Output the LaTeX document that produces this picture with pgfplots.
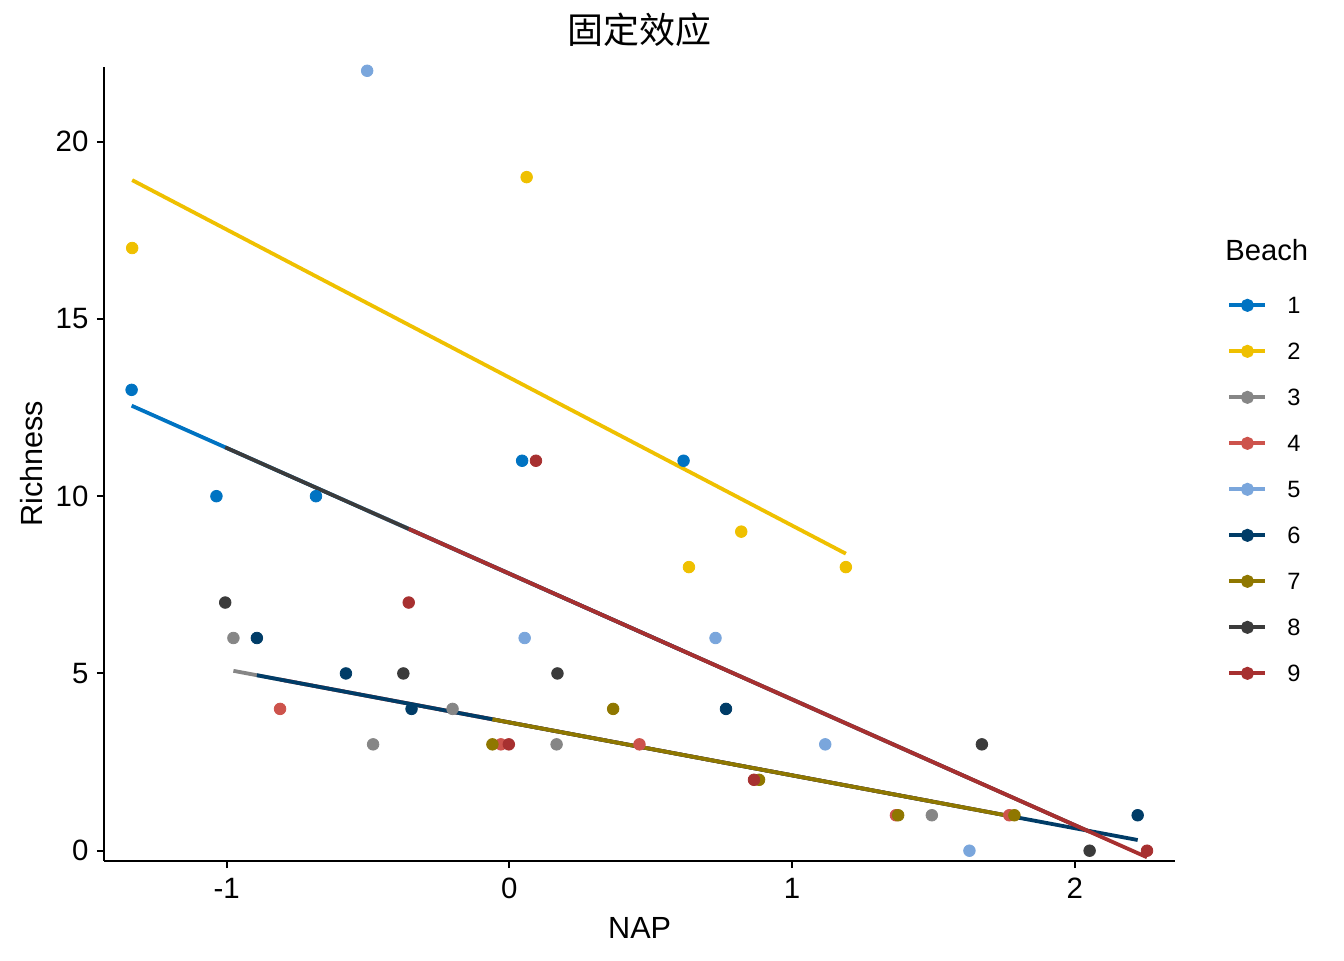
\documentclass[border=0pt]{standalone}
\usepackage{fontspec}
\setmainfont{Liberation Sans}
\newfontfamily\cjk{Noto Sans CJK SC}
\usepackage{pgfplots}
\pgfplotsset{compat=1.18}
\definecolor{b1}{HTML}{0073C2}
\definecolor{b2}{HTML}{EFC000}
\definecolor{b3}{HTML}{868686}
\definecolor{b4}{HTML}{CD534C}
\definecolor{b5}{HTML}{7AA6DC}
\definecolor{b6}{HTML}{003C67}
\definecolor{b7}{HTML}{8F7700}
\definecolor{b8}{HTML}{3B3B3B}
\definecolor{b9}{HTML}{A73030}
\begin{document}
\begin{tikzpicture}
\useasboundingbox (0,0) rectangle (672pt,480pt);
\begin{axis}[
  at={(52.15pt,49.65pt)}, anchor=south west,
  scale only axis, width=535.35pt, height=397pt,
  xmin=-1.4326, xmax=2.354, ymin=-0.282, ymax=22.115,
  axis x line*=bottom, axis y line*=left,
  axis line style={-, line width=1pt, black},
  xtick={-1,0,1,2}, xticklabels={-1,0,1,2},
  ytick={0,5,10,15,20}, yticklabels={0,5,10,15,20},
  tick align=outside, major tick length=3.75pt,
  tick style={line width=1pt, black},
  tick label style={font=\fontsize{14.7}{16}\selectfont, inner sep=4pt},
  xticklabel style={yshift=-0.9pt},
  every axis x label/.style={at={(axis description cs:0.5,-0.0848)}, anchor=center, font=\fontsize{15.3}{17}\selectfont},
  every axis y label/.style={at={(axis description cs:-0.0675,0.5)}, anchor=center, rotate=90, font=\fontsize{15.3}{17}\selectfont},
  xlabel={NAP}, ylabel={Richness},
  title={\cjk 固定效应},
  title style={at={(axis description cs:0.5003,1.0311)}, anchor=center, font=\fontsize{18}{20}\selectfont},
  clip=false,
  legend image code/.code={\draw[line width=2pt] (0pt,0pt) -- (18pt,0pt); \fill (9pt,0pt) circle (2.3pt);},
  legend style={at={(axis description cs:1.0486,0.7106)}, anchor=north west, draw=none, fill=none, inner sep=0pt,
    row sep=14.55pt, column sep=10pt,
    nodes={inner sep=0pt, text height=8.45pt, text depth=0pt},
    font=\fontsize{11.8}{13}\selectfont},
  legend cell align=left,
]
% points
\addplot[only marks, mark=*, mark size=2.9pt, color=b1, forget plot] coordinates {(0.045,11) (-1.036,10) (-1.336,13) (0.616,11) (-0.684,10)};
\addplot[only marks, mark=*, mark size=2.9pt, color=b2, forget plot] coordinates {(1.190,8) (0.820,9) (0.635,8) (0.061,19) (-1.334,17)};
\addplot[only marks, mark=*, mark size=2.9pt, color=b3, forget plot] coordinates {(-0.976,6) (1.494,1) (-0.201,4) (-0.482,3) (0.167,3)};
\addplot[only marks, mark=*, mark size=2.9pt, color=b4, forget plot] coordinates {(1.768,1) (-0.030,3) (0.460,3) (1.367,1) (-0.811,4)};
\addplot[only marks, mark=*, mark size=2.9pt, color=b5, forget plot] coordinates {(1.117,3) (-0.503,22) (0.729,6) (1.627,0) (0.054,6)};
\addplot[only marks, mark=*, mark size=2.9pt, color=b6, forget plot] coordinates {(-0.578,5) (-0.346,4) (2.222,1) (-0.893,6) (0.766,4)};
\addplot[only marks, mark=*, mark size=2.9pt, color=b7, forget plot] coordinates {(0.883,2) (1.786,1) (1.375,1) (-0.060,3) (0.367,4)};
\addplot[only marks, mark=*, mark size=2.9pt, color=b8, forget plot] coordinates {(1.671,3) (-0.375,5) (-1.005,7) (0.170,5) (2.052,0)};
\addplot[only marks, mark=*, mark size=2.9pt, color=b9, forget plot] coordinates {(-0.356,7) (0.094,11) (-0.002,3) (2.255,0) (0.865,2)};
% fitted lines
\addplot[no marks, line width=1.9pt, color=b1] coordinates {(-1.336,12.553) (0.616,5.629)};
\addplot[no marks, line width=1.9pt, color=b2] coordinates {(-1.334,18.916) (1.190,8.378)};
\addplot[no marks, line width=1.9pt, color=b3] coordinates {(-0.976,5.074) (1.494,1.388)};
\addplot[no marks, line width=1.9pt, color=b4] coordinates {(-0.811,4.828) (1.768,0.980)};
\addplot[no marks, line width=1.9pt, color=b5] coordinates {(-0.503,9.598) (1.627,2.043)};
\addplot[no marks, line width=1.9pt, color=b6] coordinates {(-0.893,4.950) (2.222,0.302)};
\addplot[no marks, line width=1.9pt, color=b7] coordinates {(-0.060,3.707) (1.786,0.953)};
\addplot[no marks, line width=1.9pt, color=b8] coordinates {(-1.005,11.379) (2.052,0.535)};
\addplot[no marks, line width=1.9pt, color=b9] coordinates {(-0.356,9.077) (2.255,-0.185)};
\legend{1,2,3,4,5,6,7,8,9}
\node[anchor=base west, inner sep=0pt, font=\fontsize{14.6}{16}\selectfont] at (axis description cs:1.0467,0.7557) {Beach};
\end{axis}
\end{tikzpicture}
\end{document}
